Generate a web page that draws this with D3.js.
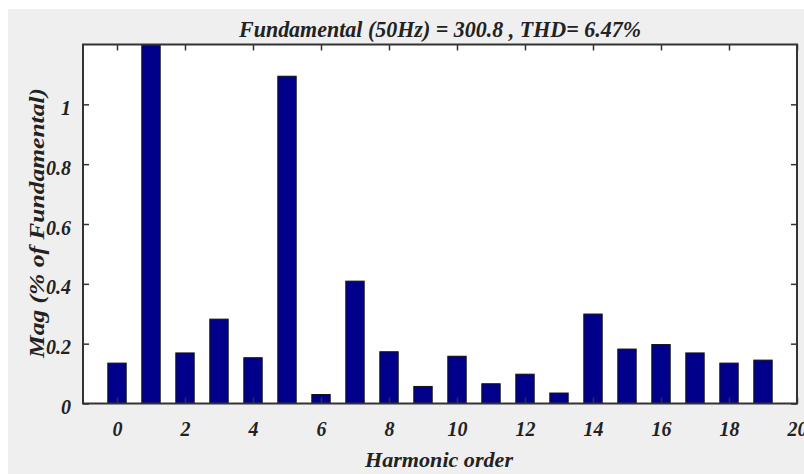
<!DOCTYPE html>
<html><head><meta charset="utf-8">
<script src="https://cdn.jsdelivr.net/npm/d3@7"></script>
<style>body{margin:0;background:#fff;} svg{display:block;} text{font-family:"Liberation Serif","Times New Roman",serif;font-weight:bold;font-style:italic;fill:#222;}</style>
</head><body><svg id="c" width="804" height="474"></svg>
<script>
const harmonics = [0,1,2,3,4,5,6,7,8,9,10,11,12,13,14,15,16,17,18,19];
const magnitudes = [0.135,100,0.169,0.282,0.153,1.094,0.03,0.409,0.173,0.057,0.158,0.066,0.098,0.035,0.299,0.182,0.197,0.169,0.135,0.145];
const xTicks = [0,2,4,6,8,10,12,14,16,18,20];
const yTicks = [0,0.2,0.4,0.6,0.8,1];
const titleText = "Fundamental (50Hz) = 300.8 , THD= 6.47%";
const xLabel = "Harmonic order";
const yLabel = "Mag (% of Fundamental)";

const svg = d3.select("#c");
svg.append("rect").attr("x",8).attr("y",9).attr("width",796).attr("height",465).attr("fill","#efefef");

const L=83, T=44.5, R=797, B=403.5;
const x = d3.scaleLinear().domain([-1,20]).range([L,R]);
const y = d3.scaleLinear().domain([0,1.2]).range([B,T]);

svg.append("rect").attr("x",L).attr("y",T).attr("width",R-L).attr("height",B-T).attr("fill","#fff");

svg.append("clipPath").attr("id","clip").append("rect").attr("x",L).attr("y",T).attr("width",R-L).attr("height",B-T);

const bw = (x(1)-x(0))*0.54;
svg.append("g").attr("clip-path","url(#clip)").selectAll("rect").data(harmonics).join("rect")
  .attr("x",d=>x(d)-bw/2).attr("width",bw)
  .attr("y",(d,i)=>y(Math.min(magnitudes[i],5))).attr("height",(d,i)=>B-y(Math.min(magnitudes[i],5)))
  .attr("fill","#00008b").attr("stroke","#111").attr("stroke-width",1);

const tl = 6;
const axStyle = g=>{g.select(".domain").remove(); g.selectAll("line").attr("stroke","#333").attr("stroke-width",1.5);};
// bottom
const xb = svg.append("g").attr("transform",`translate(0,${B})`).call(d3.axisBottom(x).tickValues(xTicks).tickSize(-tl).tickPadding(18).tickFormat(d3.format("d")));
axStyle(xb); xb.selectAll("text").attr("font-size",20).attr("fill","#222");
const xt = svg.append("g").attr("transform",`translate(0,${T})`).call(d3.axisTop(x).tickValues(xTicks).tickSize(-tl).tickFormat(""));
axStyle(xt);
const yl = svg.append("g").attr("transform",`translate(${L},0)`).call(d3.axisLeft(y).tickValues(yTicks).tickSize(-tl).tickPadding(12).tickFormat(d=>d===0?"0":d===1?"1":d3.format(".1f")(d)));
axStyle(yl); yl.selectAll("text").attr("font-size",20).attr("fill","#222").attr("dy","0.5em");
const yr = svg.append("g").attr("transform",`translate(${R},0)`).call(d3.axisRight(y).tickValues(yTicks).tickSize(-tl).tickFormat(""));
axStyle(yr);

svg.append("rect").attr("x",L).attr("y",T).attr("width",R-L).attr("height",B-T).attr("fill","none").attr("stroke","#333").attr("stroke-width",2);

svg.append("text").attr("x",440).attr("y",37).attr("text-anchor","middle").attr("font-size",23)
  .attr("textLength",402).attr("lengthAdjust","spacingAndGlyphs").text(titleText);
svg.append("text").attr("x",439).attr("y",467).attr("text-anchor","middle").attr("font-size",22)
  .attr("textLength",148).attr("lengthAdjust","spacingAndGlyphs").text(xLabel);
svg.append("text").attr("transform","translate(44,223) rotate(-90)").attr("text-anchor","middle").attr("font-size",22)
  .attr("textLength",270).attr("lengthAdjust","spacingAndGlyphs").text(yLabel);
</script></body></html>
